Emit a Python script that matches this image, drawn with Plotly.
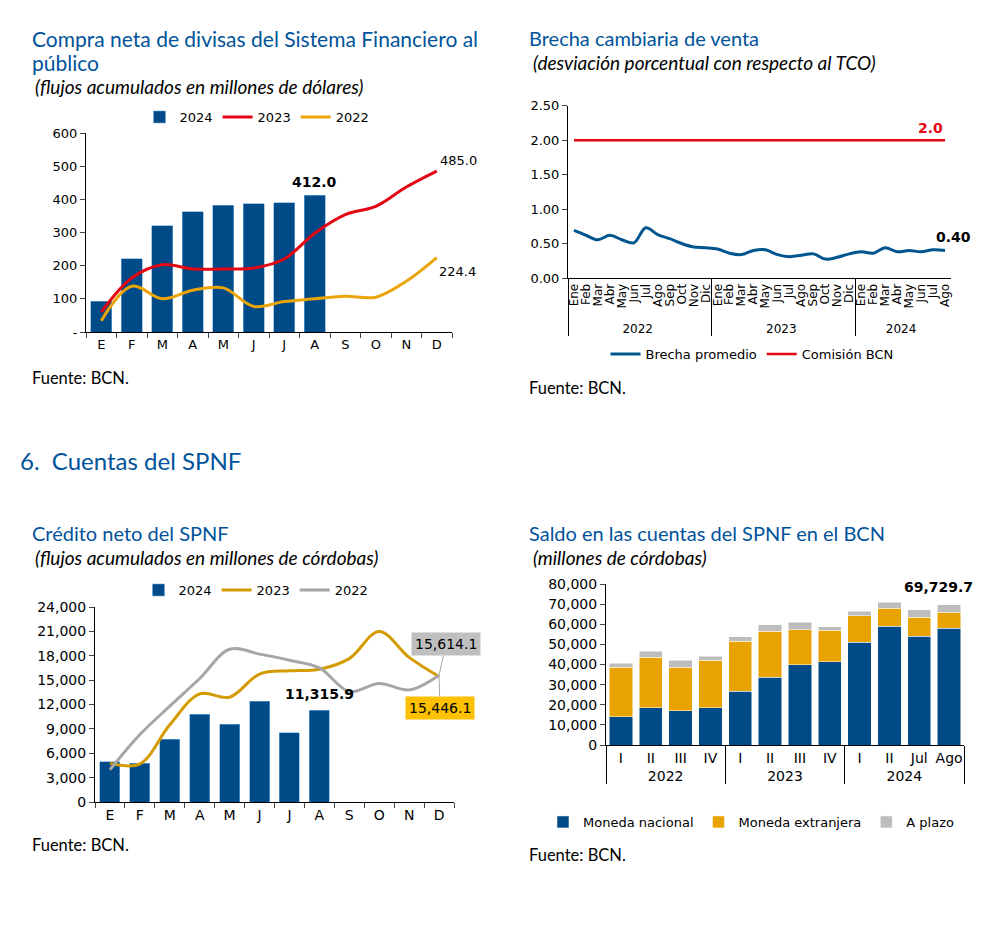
import plotly.graph_objects as go

W, H = 988, 939

# ---------------- data ----------------
months = ['Ene', 'Feb', 'Mar', 'Abr', 'May', 'Jun', 'Jul', 'Ago', 'Sep', 'Oct', 'Nov', 'Dic']
month_letters = ['E', 'F', 'M', 'A', 'M', 'J', 'J', 'A', 'S', 'O', 'N', 'D']

# Chart 1: Compra neta de divisas (millones de dólares)
compra_2024 = [92, 221, 320, 362, 382, 387, 390, 412.0]
compra_2023 = [60, 163, 203, 190, 190, 193, 220, 298, 354, 379, 437, 485.0]
compra_2022 = [34, 138, 100, 126, 133, 77, 92, 100, 108, 105, 153, 224.4]

# Chart 2: Brecha cambiaria de venta
brecha_years = ['2022'] * 12 + ['2023'] * 12 + ['2024'] * 8
brecha_months = months + months + months[:8]
brecha_promedio = [0.69, 0.62, 0.555, 0.62, 0.555, 0.51, 0.73, 0.63, 0.57, 0.50, 0.45, 0.44,
                   0.42, 0.36, 0.34, 0.40, 0.41, 0.34, 0.31, 0.33, 0.35, 0.275, 0.30, 0.35,
                   0.38, 0.36, 0.44, 0.38, 0.40, 0.38, 0.41, 0.40]
comision_bcn = [2.0] * 32

# Chart 3: Crédito neto del SPNF (millones de córdobas)
credito_2024 = [4950, 4800, 7700, 10800, 9550, 12400, 8500, 11315.9]
credito_2023 = [4750, 4700, 9500, 13300, 12900, 15750, 16150, 16350, 17650, 21000, 17800, 15446.1]
credito_2022 = [3970, 8300, 11800, 15200, 18800, 18200, 17450, 16500, 13600, 14600, 13800, 15614.1]

# Chart 4: Saldo en las cuentas del SPNF en el BCN
saldo_years = ['2022'] * 4 + ['2023'] * 4 + ['2024'] * 4
saldo_periods = ['I', 'II', 'III', 'IV', 'I', 'II', 'III', 'IV', 'I', 'II', 'Jul', 'Ago']
moneda_nacional = [14100, 18600, 17100, 18600, 26600, 33700, 39800, 41300, 51100, 58900, 54100, 58100]
moneda_extranjera = [24600, 25100, 21600, 23600, 25000, 22900, 17500, 15600, 13100, 9000, 9500, 7950]
a_plazo = [1800, 3000, 3300, 2000, 2300, 3150, 3650, 1850, 2150, 3150, 3500, 3679.7]
saldo_total = [a + b + c for a, b, c in zip(moneda_nacional, moneda_extranjera, a_plazo)]

# ---------------- styles ----------------
BLUE = '#004B87'
LBLUE = '#00558F'
RED = '#E30613'
ORANGE = '#EBA40A'
GOLD = '#D39B00'
GREY = '#A6A6A6'
TITLE_C = '#00539B'
TICKF = dict(family='DejaVu Sans', size=13, color='#000')
TICKF14 = dict(family='DejaVu Sans', size=14, color='#000')
TFONT = 'Lato'


def dx(a, b):
    return [a / W, b / W]


def dy(top, bottom):
    return [1 - bottom / H, 1 - top / H]


def px(x):
    return x / W


def py(y):
    return 1 - y / H


fig = go.Figure()

# ---- Chart 1 ----
fig.add_trace(go.Bar(x=months[:8], y=compra_2024, name='2024', marker=dict(color=BLUE, line=dict(color='#6FA8D6', width=0.6)),
                     width=0.68, xaxis='x', yaxis='y', legend='legend'))
fig.add_trace(go.Scatter(x=months, y=compra_2023, name='2023', mode='lines', line=dict(color=RED, width=3, shape='spline'),
                         xaxis='x', yaxis='y', legend='legend'))
fig.add_trace(go.Scatter(x=months, y=compra_2022, name='2022', mode='lines', line=dict(color=ORANGE, width=3, shape='spline'),
                         xaxis='x', yaxis='y', legend='legend'))

# ---- Chart 2 ----
fig.add_trace(go.Scatter(x=[brecha_years, brecha_months], y=brecha_promedio, name='Brecha promedio', mode='lines',
                         line=dict(color=LBLUE, width=3, shape='spline'), xaxis='x2', yaxis='y2', legend='legend2'))
fig.add_trace(go.Scatter(x=[brecha_years, brecha_months], y=comision_bcn, name='Comisión BCN', mode='lines',
                         line=dict(color=RED, width=2.5), xaxis='x2', yaxis='y2', legend='legend2'))

# ---- Chart 3 ----
fig.add_trace(go.Bar(x=months[:8], y=credito_2024, name='2024', marker=dict(color=BLUE, line=dict(color='#6FA8D6', width=0.6)),
                     width=0.67, xaxis='x3', yaxis='y3', legend='legend3'))
fig.add_trace(go.Scatter(x=months, y=credito_2023, name='2023', mode='lines', line=dict(color=GOLD, width=3, shape='spline'),
                         xaxis='x3', yaxis='y3', legend='legend3'))
fig.add_trace(go.Scatter(x=months, y=credito_2022, name='2022', mode='lines', line=dict(color=GREY, width=3, shape='spline'),
                         xaxis='x3', yaxis='y3', legend='legend3'))

# ---- Chart 4 ----
for vals, nm, col in [(moneda_nacional, 'Moneda nacional', BLUE),
                      (moneda_extranjera, 'Moneda extranjera', '#E8A300'),
                      (a_plazo, 'A plazo', '#BDBDBD')]:
    fig.add_trace(go.Bar(x=[saldo_years, saldo_periods], y=vals, name=nm, width=0.78,
                         marker=dict(color=col, line=dict(color='#FFFFFF', width=0.5)),
                         xaxis='x4', yaxis='y4', legend='legend4'))

axis_common = dict(showline=True, linecolor='#000', linewidth=1, showgrid=False, zeroline=False, automargin=False)
leg_common = dict(orientation='h', xanchor='center', yanchor='middle', itemwidth=30,
                  traceorder='normal', bgcolor='rgba(0,0,0,0)')

fig.update_layout(
    width=W, height=H, margin=dict(l=0, r=0, t=0, b=0, pad=0, autoexpand=False),
    paper_bgcolor='white', plot_bgcolor='white', barmode='stack',
    font=dict(family='DejaVu Sans', size=13, color='#000'),
    xaxis=dict(domain=dx(86, 452), anchor='y', type='category', categoryorder='array', categoryarray=months,
               tickmode='array', tickvals=months, ticktext=month_letters, tickson='boundaries',
               ticks='outside', ticklen=5, tickfont=TICKF, range=[-0.5, 11.5], **axis_common),
    yaxis=dict(domain=dy(133, 332), anchor='x', range=[0, 600], tickmode='array',
               tickvals=[0, 100, 200, 300, 400, 500, 600], ticktext=['-', '100', '200', '300', '400', '500', '600'],
               ticks='outside', ticklen=5, tickfont=TICKF, **axis_common),
    xaxis2=dict(domain=dx(568, 951), anchor='y2', type='multicategory', tickangle=-90, ticks='',
                tickmode='linear', dtick=1, nticks=40, range=[-0.5, 31.5],
                tickfont=dict(family='DejaVu Sans', size=12, color='#000'), showdividers=True,
                dividercolor='#000', dividerwidth=1, **axis_common),
    yaxis2=dict(domain=dy(105.7, 278), anchor='x2', range=[0, 2.5], dtick=0.5, tickformat='.2f',
                ticks='outside', ticklen=5, tickfont=TICKF, **axis_common),
    xaxis3=dict(domain=dx(95, 454), anchor='y3', type='category', categoryorder='array', categoryarray=months,
                tickmode='array', tickvals=months, ticktext=month_letters, tickson='boundaries',
                ticks='outside', ticklen=5, tickfont=TICKF14, range=[-0.5, 11.5], **axis_common),
    yaxis3=dict(domain=dy(607, 802), anchor='x3', range=[0, 24000], dtick=3000, tickformat=',d',
                ticks='outside', ticklen=5, tickfont=TICKF14, **axis_common),
    xaxis4=dict(domain=dx(606, 964), anchor='y4', type='multicategory', ticks='', tickangle=0,
                range=[-0.5, 11.5],
                tickfont=TICKF14, showdividers=True, dividercolor='#000', dividerwidth=1, **axis_common),
    yaxis4=dict(domain=dy(584, 745), anchor='x4', range=[0, 80000], dtick=10000, tickformat=',d',
                ticks='outside', ticklen=5, tickfont=TICKF14, **axis_common),
    legend=dict(x=px(257), y=py(117), font=TICKF, **leg_common),
    legend2=dict(x=px(752), y=py(354), font=TICKF, **leg_common),
    legend3=dict(x=px(256), y=py(590), font=TICKF, **leg_common),
    legend4=dict(x=px(751), y=py(822), font=TICKF, **leg_common),
)

ann = []


def text(x, y, t, size, color='#000', italic=False, family=TFONT):
    ann.append(dict(xref='paper', yref='paper', x=px(x), y=py(y), text=t, showarrow=False,
                    xanchor='left', yanchor='middle',
                    font=dict(family=family, size=size, color=color, style='italic' if italic else 'normal')))


# titles
text(30, 38, 'Compra neta de divisas del Sistema Financiero al', 21, TITLE_C)
text(30, 62, 'público', 21, TITLE_C)
text(33, 86, '(flujos acumulados en millones de dólares)', 19, '#000', True)
text(527, 38, 'Brecha cambiaria de venta', 20, TITLE_C)
text(531, 62, '(desviación porcentual con respecto al TCO)', 19, '#000', True)
text(18, 460, '6.  Cuentas del SPNF', 24, TITLE_C)
text(30, 533, 'Crédito neto del SPNF', 20, TITLE_C)
text(33, 557, '(flujos acumulados en millones de córdobas)', 19, '#000', True)
text(527, 533, 'Saldo en las cuentas del SPNF en el BCN', 20, TITLE_C)
text(531, 557, '(millones de córdobas)', 19, '#000', True)
# sources
text(30, 378, 'Fuente: BCN.', 16.5)
text(527, 388, 'Fuente: BCN.', 16.5)
text(30, 845, 'Fuente: BCN.', 16.5)
text(527, 855, 'Fuente: BCN.', 16.5)

# data labels chart 1
ann.append(dict(xref='x', yref='y', x=months[7], y=compra_2024[-1], text='<b>412.0</b>', showarrow=False,
                yanchor='bottom', yshift=3, font=dict(family='DejaVu Sans', size=14, color='#000')))
ann.append(dict(xref='x', yref='y', x=months[11], y=compra_2023[-1], text='485.0', showarrow=False,
                xshift=22, yshift=11, font=dict(family='DejaVu Sans', size=13, color='#000')))
ann.append(dict(xref='x', yref='y', x=months[11], y=compra_2022[-1], text='224.4', showarrow=False,
                xshift=21, yshift=-14, font=dict(family='DejaVu Sans', size=13, color='#000')))
# chart 2 labels
ann.append(dict(xref='x2', yref='y2', x=31, y=comision_bcn[-1], text='<b>2.0</b>', showarrow=False,
                xanchor='right', yanchor='bottom', xshift=0, yshift=2,
                font=dict(family='DejaVu Sans', size=14, color=RED)))
ann.append(dict(xref='x2', yref='y2', x=31, y=brecha_promedio[-1], text='<b>0.40</b>', showarrow=False,
                xshift=8, yshift=13, font=dict(family='DejaVu Sans', size=14, color='#000')))
# chart 3 labels
ann.append(dict(xref='x3', yref='y3', x=months[7], y=credito_2024[-1], text='<b>11,315.9</b>', showarrow=False,
                yanchor='bottom', yshift=6, font=dict(family='DejaVu Sans', size=14, color='#000')))
ann.append(dict(xref='x3', yref='y3', x=months[11], y=credito_2022[-1], text='15,614.1', showarrow=True,
                arrowhead=0, arrowwidth=1, arrowcolor=GREY, ax=7, ay=-31, bgcolor='#BFBFBF', borderpad=3,
                font=dict(family='DejaVu Sans', size=14, color='#000')))
ann.append(dict(xref='x3', yref='y3', x=months[11], y=credito_2023[-1], text='15,446.1', showarrow=True,
                arrowhead=0, arrowwidth=1, arrowcolor=GREY, ax=1, ay=31, bgcolor='#FFC000', borderpad=3,
                font=dict(family='DejaVu Sans', size=14, color='#000')))
# chart 4 label
ann.append(dict(xref='x4', yref='y4', x=11, y=saldo_total[-1], text='<b>69,729.7</b>', showarrow=False,
                yanchor='bottom', xshift=-11, yshift=8, font=dict(family='DejaVu Sans', size=14, color='#000')))

fig.update_layout(annotations=ann)
fig.write_html('out.html', config={'displayModeBar': False},
               post_script="document.body.style.margin='0';document.body.style.overflow='hidden';")
